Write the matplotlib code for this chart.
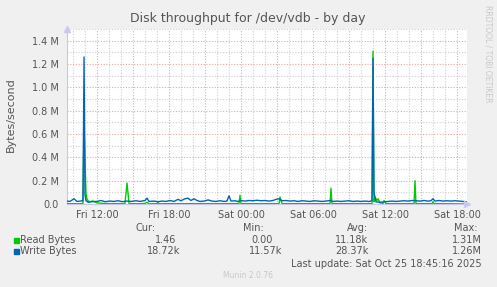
import matplotlib
matplotlib.use("Agg")
import matplotlib.pyplot as plt
from matplotlib.patches import Rectangle
import numpy as np

# ---------------- data (hours since Fri 00:00, values in kB/s) ----------------
write_t = [9.50, 9.75, 10.08, 10.33, 10.58, 10.83, 10.92, 11.00, 11.08, 11.25, 11.58,
           12.00, 12.33, 12.67, 13.08, 13.42, 13.75, 14.08, 14.50, 14.83, 15.25, 15.58,
           16.00, 16.17, 16.33, 16.75, 17.08, 17.42, 17.75, 18.08, 18.42, 18.75, 19.00,
           19.33, 19.58, 19.83, 20.08, 20.33, 20.58, 20.92, 21.25, 21.58, 21.92, 22.25,
           22.58, 22.83, 23.00, 23.17, 23.50, 23.75, 24.00, 24.33, 24.67, 25.00, 25.33,
           25.67, 26.00, 26.33, 26.67, 26.92, 27.17, 27.42, 27.75, 28.08, 28.42, 28.75,
           29.08, 29.42, 29.75, 30.08, 30.42, 30.75, 31.08, 31.42, 31.67, 32.00, 32.33,
           32.67, 33.00, 33.33, 33.67, 34.00, 34.33, 34.67, 34.92, 35.00, 35.08, 35.25,
           35.58, 35.92, 36.25, 36.58, 36.92, 37.25, 37.58, 37.92, 38.25, 38.58, 38.92,
           39.25, 39.58, 39.83, 40.00, 40.17, 40.50, 40.83, 41.17, 41.50, 41.83, 42.17,
           42.50, 42.83]
write_v = [25, 22, 45, 22, 25, 28, 1260, 80, 30, 15, 20,
           22, 30, 20, 25, 22, 28, 20, 25, 22, 28, 22,
           30, 50, 22, 25, 20, 25, 22, 30, 22, 40, 28,
           45, 50, 30, 45, 30, 22, 25, 35, 25, 22, 28,
           22, 25, 70, 25, 28, 22, 30, 25, 30, 28, 32,
           28, 30, 25, 30, 40, 45, 28, 30, 25, 28, 22,
           28, 25, 22, 28, 25, 22, 25, 30, 22, 25, 22,
           25, 28, 22, 25, 22, 25, 22, 28, 1250, 100, 18,
           15, 18, 22, 25, 22, 25, 28, 25, 30, 28, 25,
           30, 25, 28, 45, 25, 30, 25, 28, 25, 28, 25,
           22, 18.72]

read_t = [9.50, 10.50, 10.83, 10.92, 11.08, 11.17, 11.33, 11.67, 12.00, 12.50, 13.00,
          14.33, 14.50, 14.67, 15.50, 16.00, 16.17, 16.33, 17.00, 17.08, 17.17, 18.00,
          23.83, 23.92, 24.00, 27.17, 27.25, 27.33, 27.42, 31.42, 31.50, 31.58, 34.92,
          35.00, 35.08, 35.17, 35.33, 35.42, 35.58, 35.83, 35.92, 36.08, 38.42, 38.50,
          38.58, 39.92, 40.00, 40.08, 42.83]
read_v = [3, 2, 5, 700, 90, 40, 20, 25, 10, 5, 3,
          3, 180, 3, 2, 5, 15, 2, 2, 12, 2, 3,
          3, 75, 3, 3, 60, 30, 3, 3, 135, 3, 3,
          1310, 20, 60, 30, 45, 10, 5, 30, 3, 3, 200,
          3, 3, 20, 3, 0.0015]

y_ticks = [0.0, 0.2, 0.4, 0.6, 0.8, 1.0, 1.2, 1.4]
y_tick_labels = ["0.0", "0.2 M", "0.4 M", "0.6 M", "0.8 M", "1.0 M", "1.2 M", "1.4 M"]
x_ticks = [12, 18, 24, 30, 36, 42]
x_tick_labels = ["Fri 12:00", "Fri 18:00", "Sat 00:00", "Sat 06:00", "Sat 12:00", "Sat 18:00"]

series_names = ["Read Bytes", "Write Bytes"]
series_colors = ["#00CC00", "#0066B3"]
cur_vals = ["1.46", "18.72k"]
min_vals = ["0.00", "11.57k"]
avg_vals = ["11.18k", "28.37k"]
max_vals = ["1.31M", "1.26M"]

# ---------------- figure ----------------
W, H = 497, 287
fig = plt.figure(figsize=(W / 100, H / 100), dpi=100, facecolor="#F0F0F0")
plt.rcParams["font.family"] = ["DejaVu Sans"]

def fx(x):
    return x / W

def fy(y):
    return 1 - y / H

L, R, T, B = 67, 467, 29, 204
ax = fig.add_axes([fx(L), fy(B), (R - L) / W, (B - T) / H])
ax.set_facecolor("white")
ax.set_xlim(9.5, 9.5 + 400 / 12)
ax.set_ylim(0, 1.5e6)

# grid
dots = (0, (1, 1.5))
minor_c, major_c = "#CFCFCF", "#EDA5A5"
for h in np.arange(10, 43, 1):
    ax.axvline(h, color=major_c if h % 3 == 0 else minor_c, lw=0.8, ls=dots, zorder=1)
for v in np.arange(0.1, 1.55, 0.1):
    k = int(round(v * 10))
    ax.axhline(v * 1e6, color=major_c if k % 2 == 0 else minor_c, lw=0.8, ls=dots,
               zorder=1)

ax.plot(read_t, np.array(read_v) * 1000, color=series_colors[0], lw=1.0, zorder=3)
ax.plot(write_t, np.array(write_v) * 1000, color=series_colors[1], lw=1.0, zorder=4)

ax.set_yticks([v * 1e6 for v in y_ticks])
ax.set_yticklabels(y_tick_labels)
ax.set_xticks(x_ticks)
ax.set_xticklabels(x_tick_labels)
ax.tick_params(length=0, labelsize=7, colors="#555555", pad=6)
ax.tick_params(axis="x", pad=4)

for s in ["top", "right"]:
    ax.spines[s].set_visible(False)
for s in ["left", "bottom"]:
    ax.spines[s].set_color("#C8C8E8")
    ax.spines[s].set_linewidth(0.8)

ax.plot([0], [1.0], marker="^", ms=5, color="#C8C8F0", transform=ax.transAxes,
        clip_on=False, zorder=5)
ax.plot([1.0], [0], marker=">", ms=5, color="#C8C8F0", transform=ax.transAxes,
        clip_on=False, zorder=5)

fig.text(fx(10.5), fy(115), "Bytes/second", rotation=90, ha="center", va="center",
         fontsize=8, color="#555555")

# title and side text
fig.text(fx(248), fy(18.5), "Disk throughput for /dev/vdb - by day", ha="center",
         va="center", fontsize=9, color="#555555")
fig.text(fx(488), fy(5), "RRDTOOL / TOBI OETIKER", ha="center", va="top",
         rotation=270, fontsize=5.5, color="#C8C8C8")

# legend
txt = dict(fontsize=7, color="#555555", va="center")
fig.text(fx(136), fy(228), "Cur:", **txt)
fig.text(fx(243), fy(228), "Min:", **txt)
fig.text(fx(347), fy(228), "Avg:", **txt)
fig.text(fx(454), fy(228), "Max:", **txt)

rows_y = [240, 251]
cur_x = [176, 180]
min_x = [273, 282]
avg_x = [368, 369]
max_x = [482, 482]
for i in range(2):
    y = rows_y[i]
    fig.patches.append(Rectangle((fx(14), fy(y + 2.5)), 5 / W, 5 / H,
                                 transform=fig.transFigure, color=series_colors[i]))
    fig.text(fx(20.5), fy(y), series_names[i], ha="left", **txt)
    fig.text(fx(cur_x[i]), fy(y), cur_vals[i], ha="right", **txt)
    fig.text(fx(min_x[i]), fy(y), min_vals[i], ha="right", **txt)
    fig.text(fx(avg_x[i]), fy(y), avg_vals[i], ha="right", **txt)
    fig.text(fx(max_x[i]), fy(y), max_vals[i], ha="right", **txt)

fig.text(fx(482), fy(264), "Last update: Sat Oct 25 18:45:16 2025", ha="right", **txt)
fig.text(fx(248), fy(276), "Munin 2.0.76", ha="center", va="center", fontsize=5.5,
         color="#C8C8C8")

fig.savefig("out.png", dpi=100, facecolor=fig.get_facecolor())
